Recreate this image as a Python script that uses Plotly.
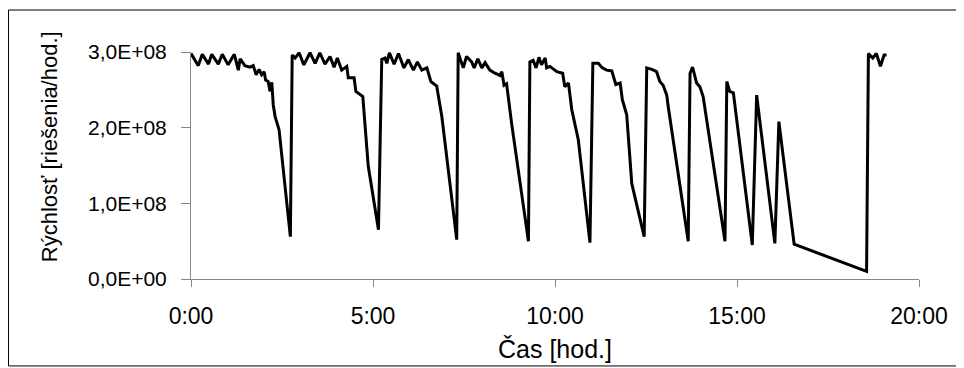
import plotly.graph_objects as go

# Time in hours (decimal) and speed in solutions/hour
hours = [
    0.00, 0.20, 0.31, 0.48, 0.57, 0.75, 0.86, 1.02, 1.19, 1.30, 1.35, 1.48, 1.62, 1.71,
    1.79, 1.87, 1.94, 2.01, 2.05, 2.12, 2.17, 2.22, 2.26, 2.31, 2.42, 2.73,
    2.78, 2.86, 2.97, 3.10, 3.27, 3.41, 3.54, 3.68, 3.82, 3.93, 4.02, 4.14, 4.28, 4.32,
    4.48, 4.53, 4.72, 4.87, 5.15,
    5.24, 5.33, 5.38, 5.45, 5.58, 5.70, 5.85, 5.97, 6.11, 6.22, 6.34, 6.48, 6.59, 6.75,
    6.89, 7.30,
    7.34, 7.48, 7.57, 7.71, 7.78, 7.88, 7.99, 8.08, 8.21, 8.35, 8.49, 8.54, 8.60, 8.67,
    8.81, 9.27,
    9.31, 9.40, 9.48, 9.56, 9.63, 9.73, 9.77, 9.86, 10.05, 10.21, 10.27, 10.37, 10.46,
    10.64, 10.96,
    11.04, 11.19, 11.30, 11.42, 11.56, 11.60, 11.67, 11.79, 11.85, 11.97, 12.11, 12.45,
    12.52, 12.66, 12.79, 12.88, 12.97, 13.07, 13.11, 13.66,
    13.71, 13.78, 13.89, 13.98, 14.07, 14.67,
    14.72, 14.80, 14.90, 15.42,
    15.54, 16.04,
    16.15, 16.57, 18.56,
    18.61, 18.73, 18.83, 18.94, 19.04, 19.11,
]
speed = [
    2.98e8, 2.82e8, 2.97e8, 2.84e8, 2.97e8, 2.84e8, 2.97e8, 2.83e8, 2.97e8, 2.76e8, 2.91e8, 2.82e8, 2.80e8, 2.82e8,
    2.70e8, 2.77e8, 2.70e8, 2.74e8, 2.63e8, 2.61e8, 2.48e8, 2.60e8, 2.30e8, 2.15e8, 1.97e8, 0.56e8,
    2.96e8, 2.92e8, 2.99e8, 2.83e8, 2.99e8, 2.85e8, 2.99e8, 2.84e8, 2.94e8, 2.80e8, 2.92e8, 2.76e8, 2.81e8, 2.66e8,
    2.66e8, 2.48e8, 2.41e8, 1.49e8, 0.65e8,
    2.90e8, 2.92e8, 2.85e8, 2.99e8, 2.84e8, 2.98e8, 2.79e8, 2.90e8, 2.76e8, 2.87e8, 2.76e8, 2.79e8, 2.61e8, 2.55e8,
    2.15e8, 0.52e8,
    2.99e8, 2.79e8, 2.94e8, 2.87e8, 2.79e8, 2.91e8, 2.79e8, 2.86e8, 2.76e8, 2.72e8, 2.69e8, 2.74e8, 2.56e8, 2.58e8,
    2.05e8, 0.50e8,
    2.87e8, 2.89e8, 2.79e8, 2.93e8, 2.83e8, 2.92e8, 2.79e8, 2.81e8, 2.74e8, 2.72e8, 2.54e8, 2.59e8, 2.24e8,
    1.84e8, 0.48e8,
    2.85e8, 2.85e8, 2.79e8, 2.76e8, 2.75e8, 2.68e8, 2.57e8, 2.59e8, 2.37e8, 2.17e8, 1.26e8, 0.56e8,
    2.79e8, 2.77e8, 2.74e8, 2.61e8, 2.56e8, 2.43e8, 2.28e8, 0.50e8,
    2.72e8, 2.80e8, 2.59e8, 2.54e8, 2.41e8, 0.50e8,
    2.61e8, 2.48e8, 2.46e8, 0.45e8,
    2.43e8, 0.47e8,
    2.08e8, 0.46e8, 0.10e8,
    2.98e8, 2.92e8, 2.98e8, 2.81e8, 2.96e8, 2.96e8,
]

x_tick_vals = [0, 5, 10, 15, 20]
x_tick_text = ["0:00", "5:00", "10:00", "15:00", "20:00"]
y_tick_vals = [0, 1e8, 2e8, 3e8]
y_tick_text = ["0,0E+00", "1,0E+08", "2,0E+08", "3,0E+08"]

FONT = "Liberation Sans, Arial, sans-serif"
AXIS_GRAY = "#868686"

fig = go.Figure()
fig.add_trace(go.Scatter(
    x=hours, y=speed, mode="lines",
    line=dict(color="black", width=3),
    showlegend=False, hoverinfo="skip",
))

# The page body adds an 8 px offset, so the figure is 8 px smaller on each side
fig.update_layout(
    width=956, height=360,
    margin=dict(l=183, r=45, t=44, b=89),
    paper_bgcolor="white", plot_bgcolor="white",
    font=dict(family=FONT, size=20, color="black"),
    xaxis=dict(
        range=[0, 20], tickvals=x_tick_vals, ticktext=x_tick_text,
        showgrid=False, zeroline=False, showline=True, linecolor=AXIS_GRAY, linewidth=1,
        ticks="outside", ticklen=7, tickcolor=AXIS_GRAY, tickwidth=1,
        ticklabelstandoff=9, tickfont=dict(family=FONT, size=23, color="black"),
    ),
    yaxis=dict(
        range=[0, 3e8], tickvals=y_tick_vals, ticktext=y_tick_text,
        showgrid=False, zeroline=False, showline=True, linecolor=AXIS_GRAY, linewidth=1,
        ticks="outside", ticklen=9, tickcolor=AXIS_GRAY, tickwidth=1,
        ticklabelstandoff=10, tickfont=dict(family=FONT, size=21, color="black"),
    ),
    annotations=[
        dict(
            text="Rýchlosť [riešenia/hod.]", xref="paper", yref="paper",
            x=-0.195, y=0.581, xanchor="center", yanchor="middle",
            textangle=-90, showarrow=False, font=dict(family=FONT, size=22, color="black"),
        ),
        dict(
            text="Čas [hod.]", xref="paper", yref="paper",
            x=0.5, y=-0.308, xanchor="center", yanchor="middle",
            showarrow=False, font=dict(family=FONT, size=25, color="black"),
        ),
    ],
    shapes=[dict(
        type="rect", xref="paper", yref="paper",
        x0=-0.2507, x1=1.0577, y0=-0.383, y1=1.185,
        line=dict(color="black", width=1), fillcolor="rgba(0,0,0,0)", layer="below",
    )],
)

fig.write_html("out.html")
